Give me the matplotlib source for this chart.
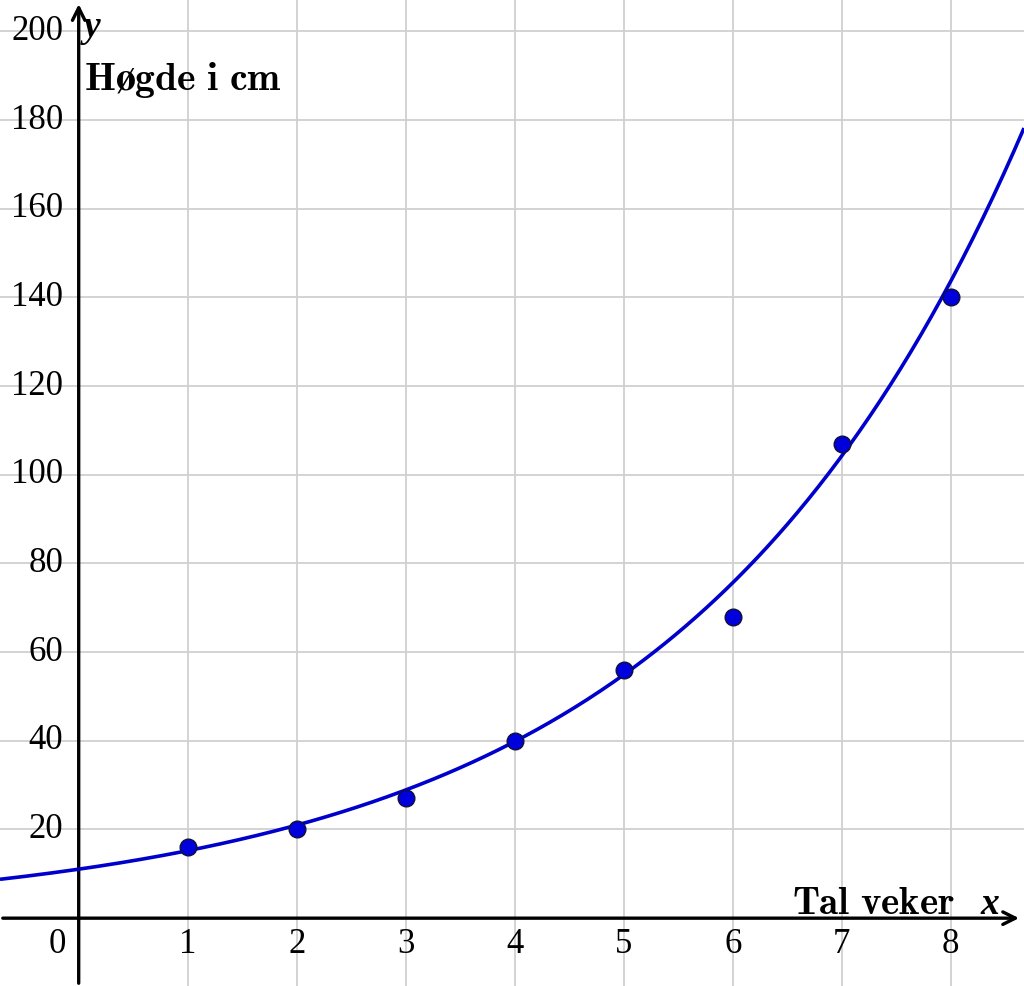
import numpy as np
import matplotlib
matplotlib.use("Agg")
import matplotlib.pyplot as plt
from matplotlib import font_manager as fm

plt.rcParams["mathtext.fontset"] = "cm"

# Data
weeks = [1, 2, 3, 4, 5, 6, 7, 8]
heights = [16, 20, 27, 40, 56, 68, 107, 140]
x_ticks = [1, 2, 3, 4, 5, 6, 7, 8]
y_ticks = [20, 40, 60, 80, 100, 120, 140, 160, 180, 200]
# exponential model y = a * b**x (fitted curve)
fit_a = 11.05
fit_b = 1.378

xmin, xmax = -0.722, 8.672
ymin, ymax = -15.3, 207.1


def find_font(name, style="normal", weight=400):
    best = None
    for f in fm.fontManager.ttflist:
        if f.name == name and f.style == style:
            w = f.weight if isinstance(f.weight, int) else 400
            if best is None or abs(w - weight) < abs(best[0] - weight):
                best = (w, f.fname)
    return best[1] if best else None


reg_path = find_font("Liberation Serif", "normal", 400)
bi_path = find_font("Liberation Serif", "italic", 700)
tick_fp = fm.FontProperties(fname=reg_path, size=25) if reg_path else fm.FontProperties(family="serif", size=25)
var_fp = (fm.FontProperties(fname=bi_path, size=27) if bi_path
          else fm.FontProperties(family="serif", style="italic", weight="bold", size=27))

fig = plt.figure(figsize=(10.24, 9.86), dpi=100)
ax = fig.add_axes([0, 0, 1, 1])
ax.set_xlim(xmin, xmax)
ax.set_ylim(ymin, ymax)
for s in ax.spines.values():
    s.set_visible(False)
ax.set_xticks([])
ax.set_yticks([])

grid_c = "#d0d0d0"
for xv in x_ticks:
    ax.axvline(xv, color=grid_c, lw=1.3, zorder=1)
for yv in y_ticks:
    ax.axhline(yv, color=grid_c, lw=1.3, zorder=1)

# axes with open arrowheads
ax.annotate("", xy=(xmax - 0.02, 0), xytext=(xmin, 0),
            arrowprops=dict(arrowstyle="->,head_length=0.9,head_width=0.45", lw=2.4, color="black"),
            zorder=3)
ax.annotate("", xy=(0, ymax - 0.3), xytext=(0, ymin),
            arrowprops=dict(arrowstyle="->,head_length=0.9,head_width=0.45", lw=2.4, color="black"),
            zorder=3)

# tick labels
for xv in x_ticks:
    ax.text(xv, -6.0, str(xv), ha="center", va="center", fontproperties=tick_fp)
for yv in y_ticks:
    ax.text(-0.14, yv, str(yv), ha="right", va="center", fontproperties=tick_fp)
ax.text(-0.2, -6.0, "0", ha="center", va="center", fontproperties=tick_fp)

# axis labels
ax.text(0.05, 198.7, "y", ha="left", va="baseline", fontproperties=var_fp)
ax.text(0.045, 186.8, r"$\mathbf{Høgde\ i\ cm}$", ha="left", va="baseline", fontsize=28.5)
ax.text(8.44, 0.9, "x", ha="right", va="baseline", fontproperties=var_fp)
ax.text(8.04, 0.9, r"$\mathbf{Tal\ veker}$", ha="right", va="baseline", fontsize=28)

# fitted curve
xs = np.linspace(xmin, xmax, 400)
ax.plot(xs, fit_a * fit_b ** xs, color="#0000cc", lw=2.6, zorder=4, solid_capstyle="butt")

# data points
ax.plot(weeks, heights, "o", ms=12, mfc="#0000dd", mec="#111133", mew=1.0, zorder=5)

fig.savefig("out.png", dpi=100)
